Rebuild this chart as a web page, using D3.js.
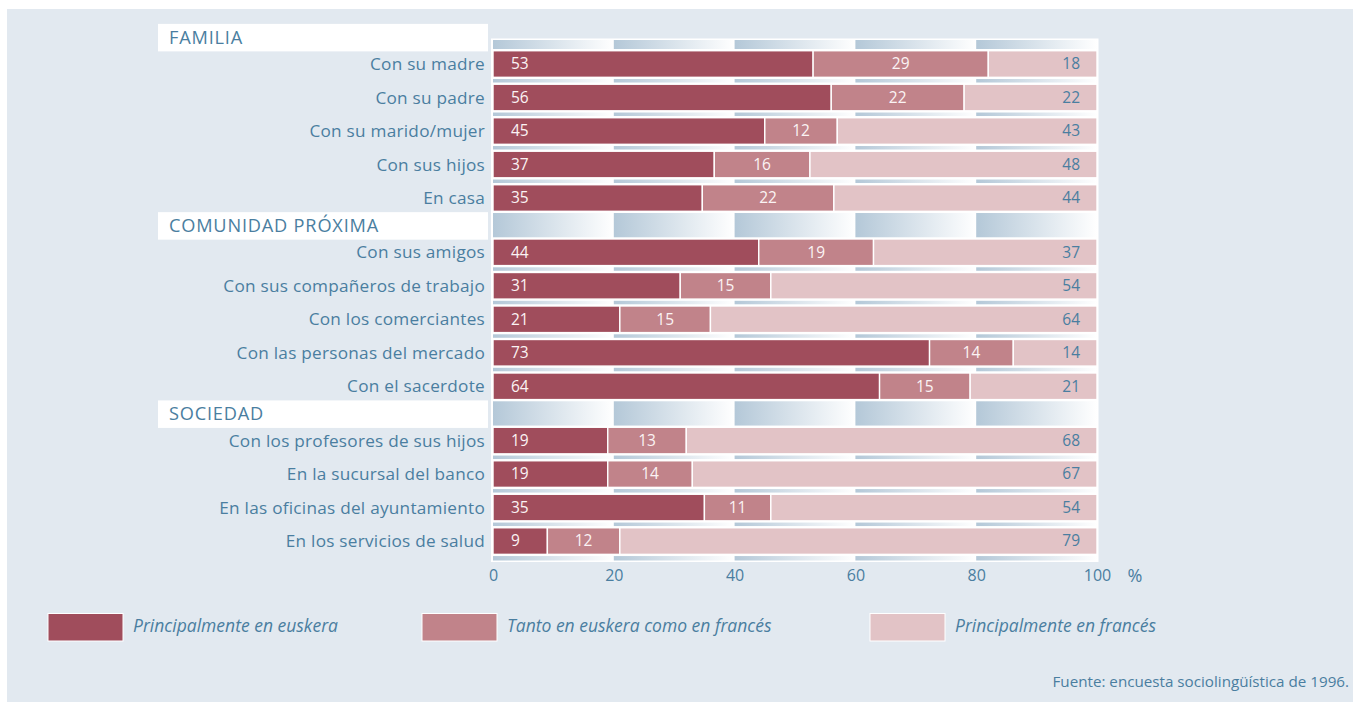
<!DOCTYPE html>
<html>
<head>
<meta charset="utf-8">
<script src="https://cdn.jsdelivr.net/npm/d3@7"></script>
<style>
  body { margin: 0; background: #ffffff; }
  text { font-family: "Open Sans", "Noto Sans", sans-serif; }
</style>
</head>
<body>
<svg id="chart" width="1355" height="702"></svg>
<script>
// Lengua utilizada según el interlocutor / ámbito (%)
const groups = ["FAMILIA", "COMUNIDAD PRÓXIMA", "SOCIEDAD"];
const categories = [
  "Con su madre", "Con su padre", "Con su marido/mujer", "Con sus hijos", "En casa",
  "Con sus amigos", "Con sus compañeros de trabajo", "Con los comerciantes",
  "Con las personas del mercado", "Con el sacerdote",
  "Con los profesores de sus hijos", "En la sucursal del banco",
  "En las oficinas del ayuntamiento", "En los servicios de salud"
];
const groupOf = [0, 0, 0, 0, 0, 1, 1, 1, 1, 1, 2, 2, 2, 2];
const euskera = [53, 56, 45, 37, 35, 44, 31, 21, 73, 64, 19, 19, 35, 9];
const ambos   = [29, 22, 12, 16, 22, 19, 15, 15, 14, 15, 13, 14, 11, 12];
const frances = [18, 22, 43, 48, 44, 37, 54, 64, 14, 21, 68, 67, 54, 79];
const seriesNames = ["Principalmente en euskera", "Tanto en euskera como en francés", "Principalmente en francés"];
const xTicks = [0, 20, 40, 60, 80, 100];
const source = "Fuente: encuesta sociolingüística de 1996.";

const colors = ["#a04d5c", "#c1838a", "#e2c3c6"];
const textBlue = "#4a7ea0";
const keys = ["euskera", "ambos", "frances"];

const svg = d3.select("#chart");

// panel background
svg.append("rect").attr("x", 7).attr("y", 9).attr("width", 1346).attr("height", 693).attr("fill", "#e2e9f0");

// rows: a header row per group followed by its categories
const rows = [];
groups.forEach((g, gi) => {
  rows.push({ type: "header", label: g });
  categories.forEach((c, i) => {
    if (groupOf[i] === gi) rows.push({ type: "item", label: c, i });
  });
});
const HEADER_UNITS = 0.62;
let u = 0;
rows.forEach(r => { r.start = u; u += r.type === "header" ? HEADER_UNITS : 1; r.end = u; });
const totalUnits = u;
const pitch = 33.5;
const y = d3.scaleLinear().domain([0, totalUnits]).range([26.5, 26.5 + totalUnits * pitch]);
const rowCenter = r => y((r.start + r.end) / 2);

const x = d3.scaleLinear().domain([0, 100]).range([493, 1097]);

// stacked shares, normalised to 100 %
const table = categories.map((c, i) => ({ category: c, euskera: euskera[i], ambos: ambos[i], frances: frances[i] }));
const stacked = d3.stack().keys(keys).offset(d3.stackOffsetExpand)(table);

// plot frame with graduated background bands
const defs = svg.append("defs");
const grad = defs.append("linearGradient").attr("id", "band").attr("x1", "0%").attr("x2", "100%");
grad.append("stop").attr("offset", "0%").attr("stop-color", "#b4c8d8");
grad.append("stop").attr("offset", "100%").attr("stop-color", "#ffffff");

const plotTop = 38.5, plotBottom = 562;
svg.append("rect")
  .attr("x", x(0) - 2).attr("y", plotTop)
  .attr("width", x(100) - x(0) + 3.5).attr("height", plotBottom - plotTop)
  .attr("fill", "#ffffff");
svg.append("g").selectAll("rect")
  .data(d3.range(0, 100, 20))
  .join("rect")
  .attr("x", d => x(d))
  .attr("y", plotTop + 1.5)
  .attr("width", d => x(d + 20) - x(d))
  .attr("height", plotBottom - plotTop - 3)
  .attr("fill", "url(#band)");

const items = rows.filter(r => r.type === "item");
const headers = rows.filter(r => r.type === "header");

// white surround of each bar
const backH = 30, barH = 26.6;
svg.append("g").selectAll("rect")
  .data(items)
  .join("rect")
  .attr("x", x(0) - 1)
  .attr("y", r => rowCenter(r) - backH / 2)
  .attr("width", x(100) - x(0) + 1.5)
  .attr("height", backH)
  .attr("fill", "#ffffff");

// bar segments
const segG = svg.append("g");
stacked.forEach((layer, k) => {
  segG.append("g").selectAll("rect")
    .data(items)
    .join("rect")
    .attr("x", r => x(layer[r.i][0] * 100))
    .attr("y", r => rowCenter(r) - barH / 2)
    .attr("width", r => x(layer[r.i][1] * 100) - x(layer[r.i][0] * 100))
    .attr("height", barH)
    .attr("fill", colors[k])
    .attr("stroke", "#ffffff")
    .attr("stroke-width", 1.4);
});

// value labels
const valueSeries = [euskera, ambos, frances];
const labG = svg.append("g").attr("font-size", 15.5);
stacked.forEach((layer, k) => {
  labG.append("g").selectAll("text")
    .data(items)
    .join("text")
    .attr("x", r => {
      if (k === 0) return x(0) + 18;
      if (k === 1) return (x(layer[r.i][0] * 100) + x(layer[r.i][1] * 100)) / 2;
      return x(100) - 17;
    })
    .attr("y", r => rowCenter(r))
    .attr("dy", "0.35em")
    .attr("text-anchor", k === 0 ? "start" : k === 1 ? "middle" : "end")
    .attr("fill", k === 2 ? textBlue : "#fbf3f4")
    .text(r => valueSeries[k][r.i]);
});

// category labels
svg.append("g").selectAll("text")
  .data(items)
  .join("text")
  .attr("x", 485)
  .attr("y", r => rowCenter(r))
  .attr("dy", "0.35em")
  .attr("text-anchor", "end")
  .attr("font-size", 17.2)
  .attr("letter-spacing", 0.25)
  .attr("fill", textBlue)
  .text(r => r.label);

// group headers
const hG = svg.append("g").selectAll("g").data(headers).join("g");
hG.append("rect")
  .attr("x", 158).attr("width", 330)
  .attr("y", r => rowCenter(r) - 13)
  .attr("height", 27.5)
  .attr("fill", "#ffffff");
hG.append("text")
  .attr("x", 169)
  .attr("y", r => rowCenter(r) + 0.5)
  .attr("dy", "0.36em")
  .attr("font-size", 18.2)
  .attr("letter-spacing", 0.8)
  .attr("fill", textBlue)
  .text(r => r.label);

// x axis
const axis = d3.axisBottom(x).tickValues(xTicks).tickSize(0).tickPadding(8).tickFormat(d3.format("d"));
const axG = svg.append("g").attr("transform", `translate(0,${plotBottom})`).call(axis);
axG.select(".domain").remove();
axG.selectAll("text").attr("font-size", 16).attr("fill", textBlue).attr("font-family", '"Open Sans", sans-serif');
svg.append("text")
  .attr("x", 1135).attr("y", 576).attr("dy", "0.35em")
  .attr("text-anchor", "middle").attr("font-size", 18).attr("fill", textBlue)
  .text("%");

// legend
const legendX = [48, 422, 870];
const lg = svg.append("g").selectAll("g").data(seriesNames).join("g")
  .attr("transform", (d, i) => `translate(${legendX[i]},613.5)`);
lg.append("rect")
  .attr("width", 75).attr("height", 27.5)
  .attr("fill", (d, i) => colors[i])
  .attr("stroke", "#ffffff").attr("stroke-width", 1);
lg.append("text")
  .attr("x", 85).attr("y", 12.5).attr("dy", "0.35em")
  .attr("font-size", 17.5).attr("font-style", "italic")
  .attr("fill", textBlue)
  .text(d => d);

// source note
svg.append("text")
  .attr("x", 1349).attr("y", 687)
  .attr("text-anchor", "end").attr("font-size", 15.2)
  .attr("fill", textBlue)
  .text(source);
</script>
</body>
</html>
